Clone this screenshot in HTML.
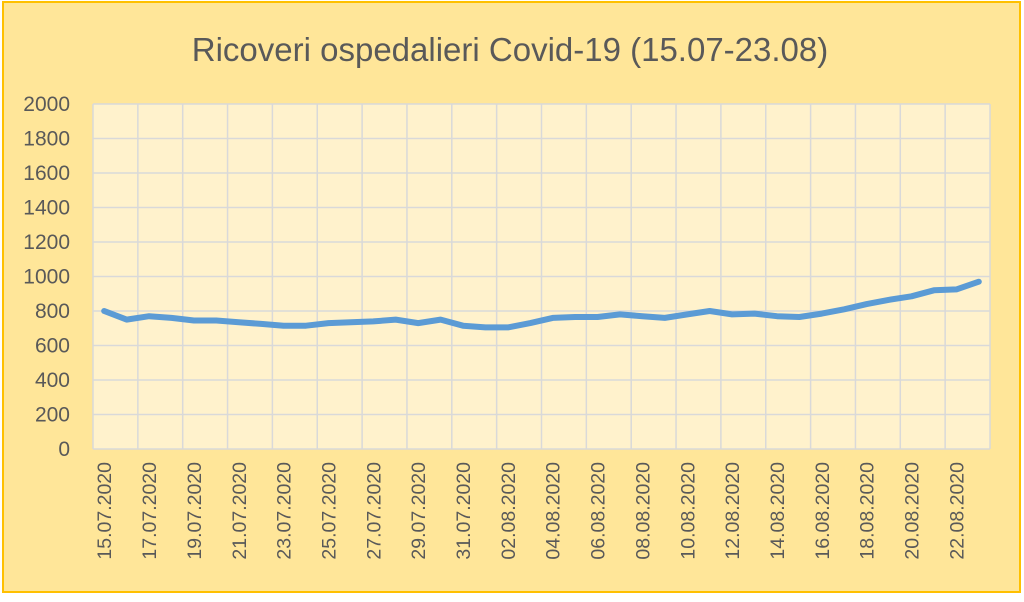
<!DOCTYPE html>
<html><head><style>
body{margin:0;background:#fff}
svg text{font-family:"Liberation Sans",sans-serif;fill:#595959}
</style></head><body>
<svg width="1024" height="597" xmlns="http://www.w3.org/2000/svg">
<rect x="3" y="2" width="1017" height="590" fill="#FFE699" stroke="#FFC000" stroke-width="2"/>
<text x="510" y="61" style="font-size:33px" text-anchor="middle">Ricoveri ospedalieri Covid-19 (15.07-23.08)</text>
<rect x="93" y="104" width="897" height="345" fill="#FFF2CC"/>
<g id="g" stroke="#D9D9D9" stroke-width="1.5" fill="none"></g>
<g id="yl" style="font-size:21px" text-anchor="end"></g>
<g id="xl" style="font-size:19.5px"></g>
<polyline id="ln" fill="none" stroke="#5B9BD5" stroke-width="6" stroke-linejoin="round" stroke-linecap="round"/>
</svg>
<script>
var ns="http://www.w3.org/2000/svg",L=93,R=990,T=104,B=449,n=40,w=(R-L)/n;
function el(t,a,p,tx){var e=document.createElementNS(ns,t);for(var k in a)e.setAttribute(k,a[k]);if(tx)e.textContent=tx;document.getElementById(p).appendChild(e);}
for(var i=0;i<=10;i++){var y=B-i*(B-T)/10;el("line",{x1:L,x2:R,y1:y,y2:y},"g");el("text",{x:70,y:y+7},"yl",String(i*200));}
for(var i=0;i<=20;i++){var x=L+i*2*w;el("line",{x1:x,x2:x,y1:T,y2:B},"g");}
var d=[800,750,770,760,745,745,735,725,715,715,730,735,740,750,730,750,715,705,705,730,760,765,765,780,770,760,780,800,780,785,770,765,785,810,840,865,885,920,925,970];
var pts=d.map(function(v,i){return (L+w*(i+0.5)).toFixed(1)+","+(B-v*(B-T)/2000).toFixed(1)}).join(" ");
document.getElementById("ln").setAttribute("points",pts);
var s=new Date(2020,6,15);
for(var i=0;i<n;i+=2){var dt=new Date(s.getTime()+i*864e5+36e5);var lab=("0"+dt.getDate()).slice(-2)+"."+("0"+(dt.getMonth()+1)).slice(-2)+".2020";var x=L+w*(i+0.5)+7;el("text",{x:0,y:0,transform:"translate("+x+",462) rotate(-90)","text-anchor":"end"},"xl",lab);}
</script>
</body></html>
